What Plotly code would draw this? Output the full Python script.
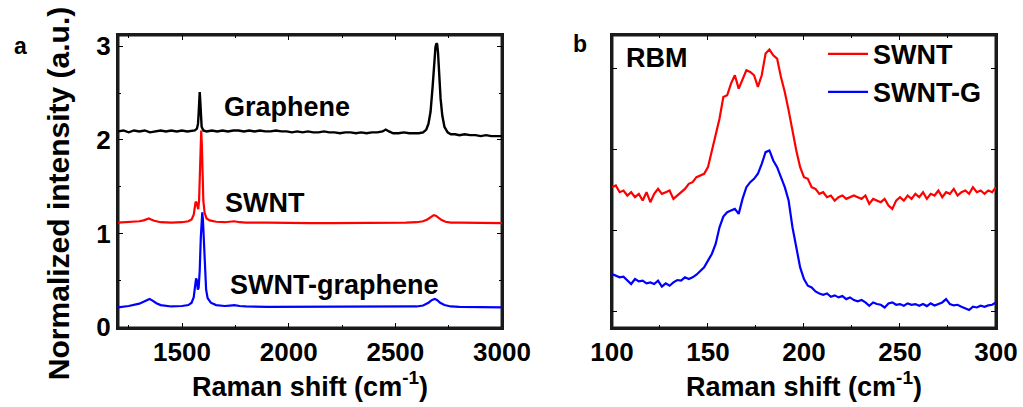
import plotly.graph_objects as go
from plotly.subplots import make_subplots

# ---------------- Panel a data ----------------
GR_X = [1200,1225,1250,1275,1300,1325,1350,1375,1400,1425,1450,1475,1500,1525,1550,1560,1570,1575,1578,1581,1583,1585,1588,1592,1600,1615,1640,1665,1690,1715,1740,1765,1790,1815,1840,1865,1890,1915,1940,1965,1990,2015,2040,2065,2090,2115,2140,2165,2190,2215,2240,2265,2290,2315,2340,2365,2390,2415,2440,2455,2470,2490,2515,2540,2565,2590,2610,2630,2645,2655,2665,2675,2682,2688,2692,2696,2700,2705,2712,2720,2730,2745,2760,2780,2800,2825,2850,2875,2900,2925,2950,2975,3000]
GR_Y = [2.09,2.10,2.08,2.10,2.09,2.10,2.08,2.09,2.10,2.09,2.10,2.09,2.10,2.09,2.10,2.10,2.12,2.17,2.28,2.46,2.51,2.44,2.26,2.14,2.10,2.09,2.10,2.09,2.10,2.09,2.10,2.10,2.09,2.10,2.09,2.10,2.09,2.09,2.10,2.09,2.09,2.08,2.09,2.08,2.09,2.08,2.08,2.09,2.08,2.08,2.07,2.08,2.08,2.07,2.08,2.07,2.08,2.08,2.09,2.11,2.09,2.07,2.07,2.08,2.07,2.07,2.07,2.08,2.11,2.17,2.30,2.58,2.84,2.99,3.03,3.02,2.93,2.72,2.44,2.26,2.14,2.08,2.06,2.06,2.05,2.06,2.05,2.05,2.04,2.05,2.04,2.04,2.04]

SW_X = [1200,1250,1300,1320,1335,1345,1355,1370,1400,1450,1500,1530,1545,1555,1560,1564,1568,1572,1576,1580,1584,1587,1590,1593,1596,1600,1606,1615,1630,1660,1700,1725,1745,1770,1800,1900,2000,2100,2200,2300,2400,2500,2550,2600,2630,2650,2665,2680,2690,2700,2715,2735,2760,2800,2900,3000]
SW_Y = [1.115,1.12,1.13,1.14,1.155,1.16,1.15,1.135,1.12,1.115,1.12,1.13,1.15,1.20,1.28,1.34,1.33,1.27,1.26,1.35,1.65,1.95,2.10,1.95,1.60,1.35,1.22,1.16,1.14,1.125,1.12,1.125,1.13,1.12,1.115,1.115,1.11,1.11,1.11,1.11,1.11,1.11,1.115,1.12,1.13,1.15,1.175,1.195,1.19,1.17,1.145,1.125,1.115,1.115,1.11,1.11]

SG_X = [1200,1250,1300,1325,1340,1348,1360,1380,1400,1450,1500,1530,1545,1555,1562,1566,1570,1574,1578,1583,1588,1592,1595,1598,1602,1607,1613,1620,1635,1660,1700,1725,1745,1770,1800,1900,2000,2200,2400,2550,2600,2630,2655,2672,2685,2695,2710,2730,2760,2800,2900,3000]
SG_Y = [0.21,0.225,0.25,0.275,0.295,0.30,0.285,0.255,0.235,0.22,0.225,0.235,0.26,0.32,0.45,0.52,0.50,0.40,0.42,0.60,0.95,1.18,1.225,1.15,0.90,0.60,0.40,0.31,0.26,0.235,0.225,0.23,0.235,0.225,0.22,0.215,0.215,0.215,0.215,0.215,0.22,0.23,0.26,0.29,0.30,0.29,0.26,0.235,0.22,0.215,0.215,0.21]

# ---------------- Panel b data (RBM) ----------------
RBM_X = list(range(100, 301, 2))
RBM_SWNT = [1.535,1.556,1.473,1.494,1.432,1.473,1.412,1.453,1.370,1.473,1.350,1.453,1.514,1.453,1.473,1.494,1.391,1.432,1.473,1.514,
            1.576,1.597,1.658,1.679,1.700,1.782,1.988,2.193,2.379,2.646,2.667,2.811,2.914,2.749,2.872,2.975,2.955,2.914,2.770,2.914,
            3.181,3.230,3.160,3.119,2.893,2.708,2.481,2.214,1.988,1.782,1.658,1.638,1.535,1.514,1.453,1.473,1.412,1.432,1.370,1.412,
            1.432,1.391,1.412,1.432,1.412,1.391,1.432,1.329,1.391,1.370,1.350,1.391,1.309,1.267,1.370,1.412,1.370,1.432,1.391,1.453,
            1.412,1.473,1.391,1.453,1.432,1.494,1.412,1.473,1.453,1.514,1.432,1.473,1.494,1.453,1.535,1.473,1.494,1.453,1.494,1.473,1.535]
RBM_SWNTG = [0.465,0.444,0.424,0.432,0.383,0.342,0.403,0.374,0.383,0.350,0.362,0.342,0.383,0.309,0.350,0.321,0.362,0.391,0.383,0.424,
             0.403,0.424,0.457,0.498,0.547,0.630,0.712,0.835,1.041,1.173,1.226,1.247,1.267,1.206,1.391,1.535,1.597,1.638,1.700,1.823,
             1.967,1.988,1.864,1.782,1.658,1.535,1.370,1.041,0.794,0.547,0.403,0.321,0.300,0.251,0.226,0.210,0.226,0.185,0.202,0.177,
             0.193,0.156,0.177,0.144,0.128,0.144,0.115,0.074,0.115,0.095,0.086,0.053,0.103,0.115,0.086,0.095,0.074,0.103,0.086,0.095,
             0.074,0.095,0.070,0.103,0.078,0.095,0.115,0.156,0.095,0.078,0.086,0.062,0.045,0.021,0.062,0.053,0.074,0.062,0.078,0.086,0.115]

# axis ranges
XA_RANGE = [1200, 3000]
YA_RANGE = [-0.01, 3.12]
XB_RANGE = [100, 300]
YB_RANGE = [-0.2, 3.41]

FONT = "Liberation Sans, Arial, sans-serif"

fig = make_subplots(rows=1, cols=2, horizontal_spacing=0.1252)

# axes frames (box around each panel), built from the axis ranges
for (xr, yr, c) in ((XA_RANGE, YA_RANGE, 1), (XB_RANGE, YB_RANGE, 2)):
    fig.add_trace(go.Scatter(x=[xr[0], xr[1], xr[1], xr[0], xr[0]], y=[yr[0], yr[0], yr[1], yr[1], yr[0]],
                             mode="lines", line=dict(color="#1a1a1a", width=3), cliponaxis=False,
                             hoverinfo="skip", showlegend=False), 1, c)

fig.add_trace(go.Scatter(x=GR_X, y=GR_Y, mode="lines", line=dict(color="#000000", width=2.4), showlegend=False), 1, 1)
fig.add_trace(go.Scatter(x=SW_X, y=SW_Y, mode="lines", line=dict(color="#FF0000", width=2.2), showlegend=False), 1, 1)
fig.add_trace(go.Scatter(x=SG_X, y=SG_Y, mode="lines", line=dict(color="#0000FF", width=2.2), showlegend=False), 1, 1)

fig.add_trace(go.Scatter(x=RBM_X, y=RBM_SWNT, mode="lines", name="SWNT", line=dict(color="#FF0000", width=2.2)), 1, 2)
fig.add_trace(go.Scatter(x=RBM_X, y=RBM_SWNTG, mode="lines", name="SWNT-G", line=dict(color="#0000FF", width=2.2)), 1, 2)

axis_common = dict(showline=True, mirror="all", linecolor="#1a1a1a", linewidth=2,
                   ticks="inside", ticklen=5, tickwidth=1, tickcolor="#000000", showgrid=False, zeroline=False,
                   automargin=False,
                   tickfont=dict(family=FONT, size=26, color="#000000", weight="bold"))

fig.update_xaxes(**axis_common, range=XA_RANGE, dtick=500, tick0=1500,
                 minor=dict(dtick=250, ticks="inside", ticklen=3, tickcolor="#000000"),
                 title=dict(text="Raman shift (cm<sup>-1</sup>)", font=dict(family=FONT, size=27, color="#000000", weight="bold"), standoff=8),
                 domain=[0, 0.4374], row=1, col=1)
fig.update_yaxes(**axis_common, range=YA_RANGE, dtick=1, tick0=0,
                 minor=dict(dtick=0.5, ticks="inside", ticklen=3, tickcolor="#000000"),
                 row=1, col=1)
fig.update_xaxes(**axis_common, range=XB_RANGE, dtick=50, tick0=100,
                 minor=dict(dtick=25, ticks="inside", ticklen=3, tickcolor="#000000"),
                 title=dict(text="Raman shift (cm<sup>-1</sup>)", font=dict(family=FONT, size=27, color="#000000", weight="bold"), standoff=8),
                 domain=[0.5626, 1], row=1, col=2)
fig.update_yaxes(**axis_common, range=YB_RANGE, tickvals=[0, 1, 2, 3], showticklabels=False, row=1, col=2)

ann_font = dict(family=FONT, size=27, color="#000000", weight="bold")
annotations = [
    dict(text="Graphene", x=1994, y=2.35, xref="x", yref="y", xanchor="center", yanchor="middle", showarrow=False, font=ann_font),
    dict(text="SWNT", x=1888, y=1.33, xref="x", yref="y", xanchor="center", yanchor="middle", showarrow=False, font=ann_font),
    dict(text="SWNT-graphene", x=2217, y=0.45, xref="x", yref="y", xanchor="center", yanchor="middle", showarrow=False, font=ann_font),
    dict(text="RBM", x=0.5763, y=0.9215, xref="paper", yref="paper", xanchor="left", yanchor="middle", showarrow=False, font=ann_font),
    dict(text="a", x=-0.1116, y=0.963, xref="paper", yref="paper", xanchor="center", yanchor="middle", showarrow=False,
         font=dict(family=FONT, size=23, color="#000000", weight="bold")),
    dict(text="b", x=0.526, y=0.970, xref="paper", yref="paper", xanchor="center", yanchor="middle", showarrow=False,
         font=dict(family=FONT, size=23, color="#000000", weight="bold")),
    dict(text="Normalized intensity (a.u.)", x=-0.0683, y=0.457, xref="paper", yref="paper",
         xanchor="center", yanchor="middle",
         textangle=-90, showarrow=False, font=dict(family=FONT, size=30, color="#000000", weight="bold")),
]

fig.update_layout(
    width=1023, height=407,
    margin=dict(l=118, r=27, t=35, b=79, autoexpand=False),
    paper_bgcolor="#FFFFFF", plot_bgcolor="#FFFFFF",
    font=dict(family=FONT, color="#000000"),
    annotations=annotations,
    legend=dict(x=0.803, y=1.018, xanchor="left", yanchor="top", bgcolor="rgba(0,0,0,0)",
                font=dict(family=FONT, size=27, color="#000000", weight="bold"),
                tracegroupgap=0, itemwidth=40),
)

fig.write_html("out.html", config={"displayModeBar": False},
               post_script="document.body.style.margin='0';document.body.style.overflow='hidden';")
